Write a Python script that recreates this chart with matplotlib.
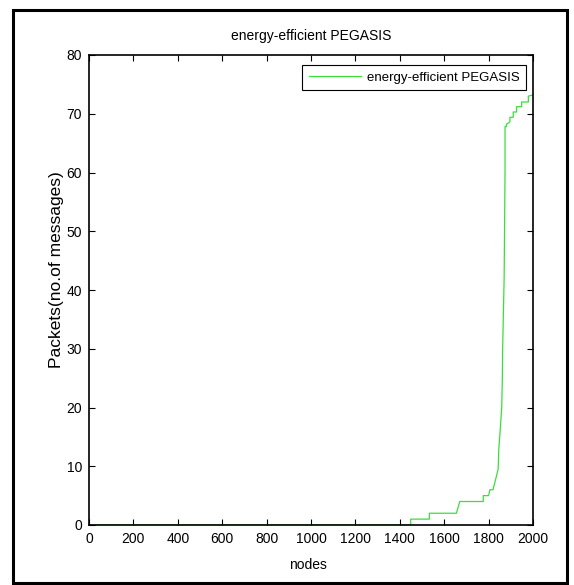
import matplotlib
matplotlib.use('Agg')
import matplotlib.pyplot as plt
from matplotlib.patches import Rectangle

# data (nodes vs cumulative packets)
nodes = [0, 1449, 1449, 1533, 1533, 1655, 1670, 1776, 1776, 1800, 1806, 1820,
         1843, 1846, 1852, 1859, 1862, 1863, 1870, 1874, 1874, 1880, 1880, 1896,
         1896, 1911, 1911, 1926, 1926, 1949, 1949, 1979, 1979, 2000]
packets = [0, 0, 1, 1, 2, 2, 4, 4, 5, 5, 6, 6,
           9.5, 13, 16, 20, 25, 29.5, 42, 60, 67.8, 67.8, 68.2, 68.6,
           69.4, 69.4, 70.3, 70.3, 71.2, 71.2, 72, 72, 73, 73.2]
xticks = list(range(0, 2001, 200))
yticks = list(range(0, 81, 10))

plt.rcParams['font.family'] = ['Liberation Sans', 'DejaVu Sans']

W, H = 574, 585
fig = plt.figure(figsize=(W / 100, H / 100), dpi=100)
ax = fig.add_axes([89 / W, (H - 525) / H, 444 / W, 470 / H])

ax.plot(nodes, packets, color='#3ade3a', lw=0.9, label='energy-efficient PEGASIS')
ax.set_xlim(0, 2000)
ax.set_ylim(0, 80)
ax.set_xticks(xticks)
ax.set_yticks(yticks)
ax.tick_params(direction='in', length=4.5, width=0.8, top=True, right=True,
               labelsize=10, pad=5)
for s in ax.spines.values():
    s.set_linewidth(1.2)
    s.set_zorder(3)

ax.set_title('energy-efficient PEGASIS', fontsize=10, pad=11)
ax.set_xlabel('nodes', fontsize=10)
ax.xaxis.set_label_coords((308 - 89) / 444, (525 - 565) / 470)
ax.set_ylabel('Packets(no.of messages)', fontsize=12.5)
ax.yaxis.set_label_coords((57 - 89) / 444, (525 - 270) / 470)
ax.xaxis.label.set_va('center')
ax.yaxis.label.set_va('center')

leg = ax.legend(loc='upper right', bbox_to_anchor=((526 - 89) / 444, (525 - 65) / 470),
                borderaxespad=0, fancybox=False, framealpha=1, edgecolor='black',
                handlelength=4, handletextpad=0.4, fontsize=9.5, borderpad=0.5)
leg.get_frame().set_linewidth(0.8)

# outer black frame
fig.patches.append(Rectangle((13 / W, 2 / H), (567 - 13) / W, (575 - 2) / H,
                             transform=fig.transFigure, fill=False,
                             edgecolor='black', lw=2.2))

fig.savefig('out.png', dpi=100)
